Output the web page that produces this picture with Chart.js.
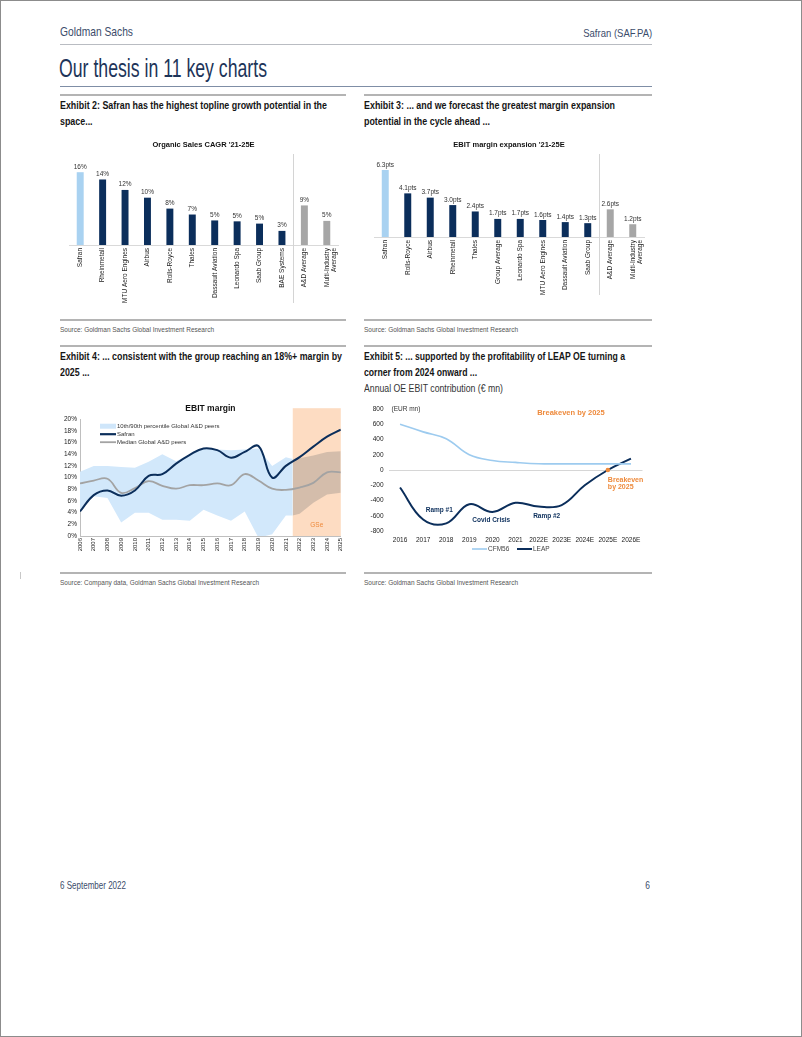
<!DOCTYPE html>
<html>
<head>
<meta charset="utf-8">
<script src="https://cdn.jsdelivr.net/npm/chart.js@4.4.1/dist/chart.umd.min.js"></script>
<style>
html, body { margin: 0; padding: 0; background: #fff; }
body { width: 802px; height: 1037px; position: relative; overflow: hidden;
       font-family: "Liberation Sans", Arial, sans-serif; }
.frame { position: absolute; left: 0; top: 0; width: 800px; height: 1035px; border: 1px solid #8c8c8c; }
.t { position: absolute; white-space: nowrap; transform-origin: left top; }
.r { transform-origin: right top; }
.rule { position: absolute; height: 0; }
.thin { border-top: 1px solid #b9bcc2; }
.col { border-top: 2px solid #b4b4b4; }
.ex { font-weight: bold; font-size: 11px; line-height: 15.5px; color: #151515; }
.src { font-size: 8px; color: #555; }
canvas { position: absolute; }
</style>
</head>
<body>
<div class="frame"></div>

<div class="t" data-w="73" style="left:60px; top:24px; font-size:13px; color:#3b4c6b;">Goldman Sachs</div>
<div class="t r" data-w="69" style="right:150px; top:27px; font-size:10.5px; color:#3b4c6b;">Safran (SAF.PA)</div>
<div class="rule thin" style="left:60px; top:44px; width:592px;"></div>
<div class="t" data-w="208" style="left:59px; top:54px; font-size:25px; color:#1d3459;">Our thesis in 11 key charts</div>
<div class="rule" style="left:60px; top:86px; width:592px; border-top:1.5px solid #7f8ea6;"></div>

<div class="rule col" style="left:60px; top:94px; width:286px;"></div>
<div class="rule col" style="left:364px; top:94px; width:288px;"></div>
<div class="t ex" data-w="267" style="left:60px; top:98px;"><span>Exhibit 2: Safran has the highest topline growth potential in the</span><br>space...</div>
<div class="t ex" data-w="251" style="left:364px; top:98px;"><span>Exhibit 3: ... and we forecast the greatest margin expansion</span><br>potential in the cycle ahead ...</div>

<canvas id="salesChart" width="286" height="182" style="left:60px; top:130px;"></canvas>
<canvas id="marginChart" width="290" height="182" style="left:362px; top:130px;"></canvas>

<div class="rule col" style="left:60px; top:319px; width:286px;"></div>
<div class="rule col" style="left:364px; top:319px; width:288px;"></div>
<div class="t src" data-w="154" style="left:60px; top:325px;">Source: Goldman Sachs Global Investment Research</div>
<div class="t src" data-w="154" style="left:364px; top:325px;">Source: Goldman Sachs Global Investment Research</div>

<div class="rule col" style="left:60px; top:345px; width:286px;"></div>
<div class="rule col" style="left:364px; top:345px; width:288px;"></div>
<div class="t ex" data-w="282" style="left:60px; top:349px;"><span>Exhibit 4: ... consistent with the group reaching an 18%+ margin by</span><br>2025 ...</div>
<div class="t ex" data-w="261" style="left:364px; top:349px;"><span>Exhibit 5: ... supported by the profitability of LEAP OE turning a</span><br>corner from 2024 onward ...</div>
<div class="t" data-w="139" style="left:364px; top:382px; font-size:10.5px; color:#333;">Annual OE EBIT contribution (€ mn)</div>

<canvas id="ebitChart" width="290" height="160" style="left:60px; top:400px;"></canvas>
<canvas id="leapChart" width="290" height="160" style="left:362px; top:400px;"></canvas>

<div style="position:absolute; left:20px; top:572px; width:1px; height:7px; background:#c8c8c8;"></div>
<div class="rule col" style="left:60px; top:572px; width:286px;"></div>
<div class="rule col" style="left:364px; top:572px; width:288px;"></div>
<div class="t src" data-w="199" style="left:60px; top:578px;">Source: Company data, Goldman Sachs Global Investment Research</div>
<div class="t src" data-w="154" style="left:364px; top:578px;">Source: Goldman Sachs Global Investment Research</div>

<div class="t" data-w="66" style="left:60px; top:879px; font-size:10.5px; color:#3b4c6b;">6 September 2022</div>
<div class="t r" style="right:152px; top:879px; font-size:10.5px; color:#3b4c6b; transform:scaleX(0.8);">6</div>

<script>
// ---- Exhibit 2: organic sales CAGR '21-25E (%)
const salesCompanies = ['Safran', 'Rheinmetall', 'MTU Aero Engines', 'Airbus', 'Rolls-Royce', 'Thales',
  'Dassault Aviation', 'Leonardo Spa', 'Saab Group', 'BAE Systems', 'A&D Average', ['Multi-Industry', 'Average']];
const salesCagr = [16.0, 14.4, 12.1, 10.4, 8.0, 6.7, 5.4, 5.2, 4.7, 3.1, 8.7, 5.3];

// ---- Exhibit 3: EBIT margin expansion '21-25E (pts)
const marginCompanies = ['Safran', 'Rolls-Royce', 'Airbus', 'Rheinmetall', 'Thales', 'Group Average',
  'Leonardo Spa', 'MTU Aero Engines', 'Dassault Aviation', 'Saab Group', 'A&D Average', ['Multi-Industry', 'Average']];
const marginExpansion = [6.3, 4.1, 3.7, 3.0, 2.4, 1.7, 1.7, 1.6, 1.4, 1.3, 2.6, 1.2];

// ---- Exhibit 4: EBIT margin (%)
const years = [2006, 2007, 2008, 2009, 2010, 2011, 2012, 2013, 2014, 2015,
  2016, 2017, 2018, 2019, 2020, 2021, 2022, 2023, 2024, 2025];
const safranMargin = [4.2, 7.0, 7.8, 6.9, 7.8, 10.3, 10.6, 12.4, 13.9, 15.0,
  14.7, 13.4, 14.4, 15.4, 10.0, 12.0, 13.5, 15.3, 17.0, 18.2];
const medianMargin = [9.0, 9.5, 9.8, 7.4, 8.2, 9.4, 8.6, 8.1, 8.7, 8.7,
  9.0, 8.7, 10.6, 9.5, 8.1, 7.9, 8.3, 9.1, 10.9, 10.9];
// 10th/90th percentile band, history up to the GSe shading
const bandYears = [2006, 2007, 2008, 2009, 2010, 2011, 2012, 2013, 2014, 2015,
  2016, 2017, 2018, 2019, 2020, 2021, 2021.5];
const bandHigh = [11.0, 12.0, 12.0, 11.8, 11.7, 12.7, 14.0, 12.8, 14.0, 15.0,
  14.8, 14.7, 14.8, 15.0, 12.0, 13.5, 13.2];
const bandLow = [4.5, 6.8, 6.5, 2.3, 4.0, 4.0, 2.8, 2.8, 2.6, 4.5,
  3.5, 2.6, 4.2, -0.3, 0.3, 3.5, 3.5];
// band inside the GSe forecast window
const gseYears = [2021.5, 2022, 2023, 2024, 2025];
const gseHigh = [13.2, 13.3, 13.8, 14.4, 14.5];
const gseLow = [3.5, 3.8, 5.7, 7.1, 7.4];

// ---- Exhibit 5: annual OE EBIT contribution (EUR mn)
const leapYears = ['2016', '2017', '2018', '2019', '2020', '2021', '2022E', '2023E', '2024E', '2025E', '2026E'];
const cfm56 = [600, 500, 410, 200, 125, 100, 82, 80, 80, 80, 80];
const leap = [-230, -650, -700, -450, -550, -430, -480, -460, -200, 0, 150];
const leapNotes = [
  { text: 'Ramp #1', x: 1.7, y: -525 },
  { text: 'Covid Crisis', x: 3.95, y: -655 },
  { text: 'Ramp #2', x: 6.35, y: -605 }
];

const NAVY = '#0b2e5b';
const LIGHT = '#a9d2f1';
const GREY = '#a6a6a6';
const ORANGE = '#ee8a3c';
const FONT = '"Liberation Sans", Arial, sans-serif';

// squeeze page text to the narrow widths of the report font
document.querySelectorAll('[data-w]').forEach(function (el) {
  const first = el.querySelector('span') || el;
  const w = first.getBoundingClientRect().width;
  if (w > 0) el.style.transform = 'scaleX(' + (parseFloat(el.dataset.w) / w) + ')';
});

// value labels over bars
const barLabels = {
  id: 'barLabels',
  afterDatasetsDraw(chart, args, opts) {
    const ctx = chart.ctx;
    const meta = chart.getDatasetMeta(0);
    ctx.save();
    ctx.font = '6.5px ' + FONT;
    ctx.fillStyle = '#333';
    ctx.textAlign = 'center';
    ctx.textBaseline = 'bottom';
    meta.data.forEach(function (bar, i) {
      ctx.fillText(opts.format(chart.data.datasets[0].data[i]), bar.x, bar.y - 2);
    });
    ctx.restore();
  }
};

// thin divider before the averages
const divider = {
  id: 'divider',
  afterDatasetsDraw(chart, args, opts) {
    const meta = chart.getDatasetMeta(0);
    const x = (meta.data[9].x + meta.data[10].x) / 2;
    const ctx = chart.ctx;
    ctx.save();
    ctx.strokeStyle = '#d4d4d4';
    ctx.lineWidth = 1;
    ctx.beginPath();
    ctx.moveTo(Math.round(x) + 0.5, chart.chartArea.top);
    ctx.lineTo(Math.round(x) + 0.5, chart.height - opts.gap);
    ctx.stroke();
    ctx.restore();
  }
};

function colorFor(i) {
  if (i === 0) return LIGHT;
  if (i >= 10) return GREY;
  return NAVY;
}

function barChart(id, title, labels, values, fmt, yMax, xHeight, pad, gap) {
  return new Chart(document.getElementById(id), {
    type: 'bar',
    data: {
      labels: labels,
      datasets: [{
        data: values,
        backgroundColor: values.map(function (v, i) { return colorFor(i); }),
        barPercentage: 0.31,
        categoryPercentage: 1
      }]
    },
    plugins: [barLabels, divider],
    options: {
      responsive: false,
      animation: false,
      layout: { padding: { left: pad[0], right: pad[1], top: 0, bottom: 0 } },
      plugins: {
        legend: { display: false },
        tooltip: { enabled: false },
        title: {
          display: true, text: title, color: '#111',
          font: { family: FONT, size: 7.5, weight: 'bold' },
          padding: { top: 10, bottom: 5 }
        },
        barLabels: { format: fmt },
        divider: { gap: gap }
      },
      scales: {
        x: {
          grid: { display: false, drawTicks: false },
          border: { display: true, color: '#d9d9d9' },
          ticks: {
            autoSkip: false, minRotation: 90, maxRotation: 90, padding: 3,
            color: '#222', font: { family: FONT, size: 6.5 }
          },
          afterFit(scale) { scale.height = xHeight; }
        },
        y: { display: false, min: 0, max: yMax }
      }
    }
  });
}

barChart('salesChart', "Organic Sales CAGR '21-25E", salesCompanies, salesCagr,
  function (v) { return Math.round(v) + '%'; }, 20, 67, [9, 8], 9);
barChart('marginChart', "EBIT margin expansion '21-25E", marginCompanies, marginExpansion,
  function (v) { return v.toFixed(1) + 'pts'; }, 7.8, 75, [12, 8], 17);

function pairs(xs, ys) {
  return xs.map(function (x, i) { return { x: x, y: ys[i] }; });
}

// GSe shading behind everything, legend and label on top
const ebitDecor = {
  id: 'ebitDecor',
  beforeDatasetsDraw(chart) {
    const ctx = chart.ctx;
    const a = chart.chartArea;
    const x0 = chart.scales.x.getPixelForValue(gseYears[0]);
    ctx.save();
    ctx.fillStyle = '#fddcc2';
    ctx.fillRect(x0, a.top - 11, a.right - x0, a.bottom - a.top + 11);
    ctx.restore();
  },
  afterDatasetsDraw(chart) {
    const ctx = chart.ctx;
    const a = chart.chartArea;
    const x0 = chart.scales.x.getPixelForValue(gseYears[0]);
    ctx.save();
    ctx.font = '6.5px ' + FONT;
    ctx.fillStyle = ORANGE;
    ctx.textAlign = 'center';
    ctx.textBaseline = 'middle';
    ctx.fillText('GSe', (x0 + a.right) / 2, a.bottom - 11);

    const lx = a.left + 20;
    const rows = [a.top + 7, a.top + 15, a.top + 23];
    ctx.fillStyle = '#cfe6fa';
    ctx.fillRect(lx, rows[0] - 2.5, 16, 5);
    ctx.lineWidth = 2.2;
    ctx.strokeStyle = NAVY;
    ctx.beginPath(); ctx.moveTo(lx, rows[1]); ctx.lineTo(lx + 16, rows[1]); ctx.stroke();
    ctx.strokeStyle = '#a3a3a3';
    ctx.lineWidth = 1.8;
    ctx.beginPath(); ctx.moveTo(lx, rows[2]); ctx.lineTo(lx + 16, rows[2]); ctx.stroke();
    ctx.fillStyle = '#333';
    ctx.font = '6px ' + FONT;
    ctx.textAlign = 'left';
    const names = ['10th/90th percentile Global A&D peers', 'Safran', 'Median Global A&D peers'];
    names.forEach(function (n, i) { ctx.fillText(n, lx + 17, rows[i]); });
    ctx.restore();
  }
};

new Chart(document.getElementById('ebitChart'), {
  type: 'line',
  data: {
    datasets: [
      { data: pairs(bandYears, bandHigh), fill: '+1', backgroundColor: '#d2e8fb', borderWidth: 0, pointRadius: 0, tension: 0, order: 10 },
      { data: pairs(bandYears, bandLow), fill: false, borderWidth: 0, pointRadius: 0, tension: 0, order: 10 },
      { data: pairs(gseYears, gseHigh), fill: '+1', backgroundColor: 'rgba(120,120,120,0.30)', borderWidth: 0, pointRadius: 0, tension: 0, order: 9 },
      { data: pairs(gseYears, gseLow), fill: false, borderWidth: 0, pointRadius: 0, tension: 0, order: 9 },
      { data: pairs(years, medianMargin), borderColor: '#a3a3a3', borderWidth: 1.8, pointRadius: 0, tension: 0.4, fill: false, order: 2 },
      { data: pairs(years, safranMargin), borderColor: NAVY, borderWidth: 2, pointRadius: 0, tension: 0.4, fill: false, order: 1 }
    ]
  },
  plugins: [ebitDecor],
  options: {
    responsive: false,
    animation: false,
    layout: { padding: { left: 0, right: 8, top: 0, bottom: 0 } },
    plugins: {
      legend: { display: false },
      tooltip: { enabled: false },
      title: {
        display: true, text: 'EBIT margin', color: '#111', fullSize: false,
        font: { family: FONT, size: 8.5, weight: 'bold' },
        padding: { top: 4, bottom: 5 }
      }
    },
    scales: {
      x: {
        type: 'linear', min: 2006, max: 2025,
        grid: { display: false, drawTicks: false },
        border: { color: '#bfbfbf' },
        ticks: {
          stepSize: 1, autoSkip: false, minRotation: 90, maxRotation: 90, padding: 2,
          color: '#222', font: { family: FONT, size: 6 },
          callback: function (v) { return String(v); }
        },
        afterFit(scale) { scale.height = 24; }
      },
      y: {
        min: 0, max: 20,
        grid: { display: false, drawTicks: false },
        border: { color: '#bfbfbf' },
        ticks: {
          stepSize: 2, padding: 3, color: '#222', font: { family: FONT, size: 6.5 },
          callback: function (v) { return v + '%'; }
        },
        afterFit(scale) { scale.width = 20; }
      }
    }
  }
});

// notes, breakeven marker and legend for the LEAP chart
const leapDecor = {
  id: 'leapDecor',
  afterDatasetsDraw(chart) {
    const ctx = chart.ctx;
    const xs = chart.scales.x;
    const ys = chart.scales.y;
    const a = chart.chartArea;
    ctx.save();
    ctx.textBaseline = 'middle';

    ctx.font = '6.5px ' + FONT;
    ctx.fillStyle = '#333';
    ctx.textAlign = 'left';
    ctx.fillText('(EUR mn)', a.left + 3, ys.getPixelForValue(800));

    ctx.font = 'bold 6.5px ' + FONT;
    ctx.fillStyle = NAVY;
    ctx.textAlign = 'center';
    leapNotes.forEach(function (n) {
      ctx.fillText(n.text, xs.getPixelForValue(n.x), ys.getPixelForValue(n.y));
    });

    const bx = xs.getPixelForValue(9);
    const by = ys.getPixelForValue(leap[9]);
    ctx.fillStyle = ORANGE;
    ctx.beginPath();
    ctx.arc(bx, by, 2.3, 0, Math.PI * 2);
    ctx.fill();
    ctx.font = 'bold 7px ' + FONT;
    ctx.textAlign = 'left';
    ctx.fillText('Breakeven', bx, ys.getPixelForValue(-135));
    ctx.fillText('by 2025', bx, ys.getPixelForValue(-225));
    ctx.font = 'bold 7.5px ' + FONT;
    ctx.textAlign = 'center';
    ctx.fillText('Breakeven by 2025', xs.getPixelForValue(7.4), ys.getPixelForValue(750));

    // legend
    const ly = a.bottom + 18;
    const items = [
      { name: 'CFM56', color: '#9dcbef', w: 1.6, x: 472 - 362 },
      { name: 'LEAP', color: NAVY, w: 2, x: 517 - 362 }
    ];
    ctx.font = '6.5px ' + FONT;
    ctx.fillStyle = '#444';
    ctx.textAlign = 'left';
    items.forEach(function (it) {
      ctx.strokeStyle = it.color;
      ctx.lineWidth = it.w;
      ctx.beginPath();
      ctx.moveTo(it.x, ly);
      ctx.lineTo(it.x + 15, ly);
      ctx.stroke();
      ctx.fillText(it.name, it.x + 16, ly);
    });
    ctx.restore();
  }
};

new Chart(document.getElementById('leapChart'), {
  type: 'line',
  data: {
    labels: leapYears,
    datasets: [
      { label: 'CFM56', data: cfm56, borderColor: '#9dcbef', borderWidth: 1.6, pointRadius: 0, tension: 0.4, fill: false },
      { label: 'LEAP', data: leap, borderColor: NAVY, borderWidth: 2, pointRadius: 0, tension: 0.4, fill: false }
    ]
  },
  plugins: [leapDecor],
  options: {
    responsive: false,
    animation: false,
    layout: { padding: { left: 0, right: 9.5, top: 9, bottom: 0 } },
    plugins: { legend: { display: false }, tooltip: { enabled: false } },
    scales: {
      x: {
        offset: true,
        grid: { display: false, drawTicks: false },
        border: { display: false },
        ticks: { autoSkip: false, maxRotation: 0, padding: 5, color: '#222', font: { family: FONT, size: 6.5 } },
        afterFit(scale) { scale.height = 29; }
      },
      y: {
        min: -800, max: 800,
        grid: {
          drawTicks: false,
          color: function (c) { return c.tick && c.tick.value === 0 ? '#d6d6d6' : 'rgba(0,0,0,0)'; }
        },
        border: { display: false },
        ticks: { stepSize: 200, padding: 5, color: '#222', font: { family: FONT, size: 6.5 } },
        afterFit(scale) { scale.width = 26.5; }
      }
    }
  }
});
</script>
</body>
</html>
